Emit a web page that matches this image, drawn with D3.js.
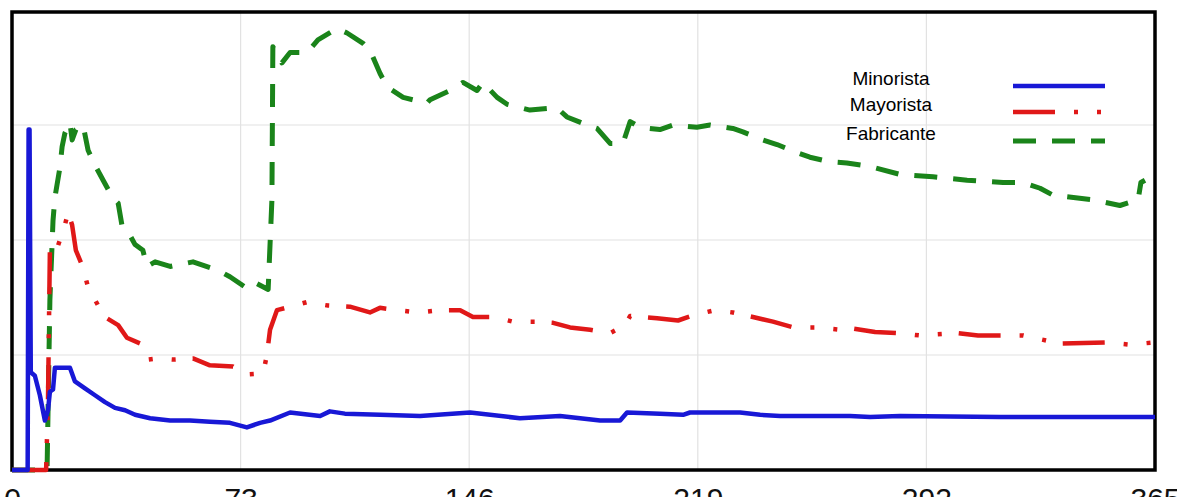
<!DOCTYPE html>
<html lang="es">
<head>
<meta charset="utf-8">
<title>Minorista / Mayorista / Fabricante</title>
<script src="https://cdn.jsdelivr.net/npm/d3@7"></script>
<style>
  body { margin: 0; background: #fff; }
  svg { display: block; }
  .tick text { font-family: "Liberation Sans", Arial, sans-serif; fill: #111; }
  .legend text { font-family: "Liberation Sans", Arial, sans-serif; font-size: 19px; fill: #000; }
</style>
</head>
<body>
<script>
// x ticks (days)
var xTicks = [0, 73, 146, 219, 292, 365];
var yGrid = [1, 2, 3];

var seriesNames = ["Minorista", "Mayorista", "Fabricante"];

// [day, value]
var minorista = [
  [0,0],[5.0,0],[5.3,2.96],[5.6,2.96],[6.0,0.85],[7.3,0.82],[8.9,0.65],[10.5,0.43],[11.5,0.52],
  [12.1,0.68],[13.1,0.70],[13.7,0.89],[16,0.89],[18.5,0.89],[20.1,0.77],[23.3,0.71],
  [26.5,0.65],[29.7,0.59],[32.9,0.54],[36.1,0.52],[39.3,0.48],[44.1,0.45],[50.5,0.43],
  [56.8,0.43],[63.2,0.42],[69.6,0.41],[75,0.37],[79.2,0.41],[82.4,0.43],[88.8,0.50],
  [98.4,0.47],[101.5,0.51],[106.3,0.49],[117.5,0.48],[130.3,0.47],[146.3,0.50],
  [162.2,0.45],[175,0.47],[187.8,0.43],[194.2,0.43],[196.4,0.50],[206.9,0.49],
  [214.3,0.48],[216.5,0.50],[232.5,0.50],[238.9,0.48],[245.3,0.47],[267.6,0.47],
  [274,0.46],[283.6,0.47],[315.5,0.46],[365,0.46]
];

var mayorista = [
  [0,0],[10.9,0],[11.5,0.61],[12.1,1.91],[13.7,1.87],[15.3,2.0],[16.9,2.13],[17.9,2.24],
  [19.2,2.13],[20.4,1.91],[22.4,1.78],[24.3,1.59],[27.5,1.43],[30.3,1.32],[33.9,1.26],
  [36.7,1.15],[40.9,1.10],[43.4,0.96],[46.3,0.97],[51.4,0.96],[57.8,0.97],[63.2,0.91],
  [70.6,0.90],[74.4,0.83],[80.2,0.84],[81.4,1.0],[82.4,1.22],[84.6,1.39],[88.8,1.42],
  [94.2,1.46],[100.9,1.43],[107.9,1.42],[114.3,1.37],[117.5,1.41],[123.3,1.39],
  [129.7,1.37],[136.7,1.39],[143.1,1.39],[147.2,1.33],[154.2,1.33],[160,1.29],
  [167.7,1.29],[172.8,1.28],[178.2,1.24],[184.6,1.22],[191,1.19],[195.8,1.26],
  [197.4,1.34],[206,1.32],[212.7,1.30],[218.1,1.35],[224.5,1.39],[230.2,1.37],
  [236.6,1.33],[243,1.29],[249.4,1.24],[257.1,1.24],[264.4,1.22],[268.6,1.23],
  [275.6,1.20],[282.6,1.19],[290,1.17],[301.8,1.19],[308.5,1.17],[322.9,1.17],
  [334.7,1.10],[349.7,1.11],[357,1.09],[365,1.11]
];

var fabricante = [
  [0,0],[11.2,0],[12.1,1.48],[13.1,2.17],[13.7,2.37],[15.3,2.63],[16,2.81],[16.9,2.93],
  [18.5,3.02],[19.2,2.87],[20.4,2.96],[22.7,3.0],[24.3,2.78],[26.5,2.65],[29.1,2.52],
  [32.1,2.37],[33.9,2.32],[35.1,2.13],[36.7,2.09],[39.3,1.96],[41.8,1.91],[43.1,1.77],
  [45.7,1.81],[50.5,1.77],[57.8,1.81],[65.5,1.74],[69.6,1.68],[75,1.58],[77.6,1.63],
  [81.8,1.57],[83,2.35],[83.3,3.68],[86.2,3.54],[88.8,3.63],[94.2,3.63],[97.7,3.74],
  [103.8,3.84],[107,3.80],[112.1,3.71],[114.3,3.65],[117.5,3.45],[119.8,3.33],
  [124.9,3.24],[132.5,3.19],[133.5,3.22],[139.9,3.30],[144,3.37],[148.5,3.30],
  [150.4,3.37],[154.9,3.24],[158.1,3.18],[165.4,3.13],[174,3.15],[177.2,3.07],
  [183.6,3.0],[186.8,2.97],[191,2.84],[195.1,2.84],[197.4,3.03],[200.5,2.98],
  [206.9,2.96],[211.1,3.0],[218.7,2.98],[222.9,3.0],[230.2,2.97],[233.4,2.94],
  [239.8,2.87],[244.3,2.83],[250.7,2.76],[254.8,2.72],[261.2,2.68],[266.6,2.67],
  [274,2.64],[283.6,2.57],[294.1,2.55],[305,2.52],[316.5,2.50],[322.9,2.50],
  [328.3,2.45],[332.4,2.39],[345.2,2.35],[353.8,2.30],[359.6,2.35],[360.5,2.50],
  [361.8,2.52]
];

var w = 1177, h = 497;
var padLeft = 12, padRight = 1155, padTop = 10, padBottom = 470;

var svg = d3.select("body").append("svg")
  .attr("width", w)
  .attr("height", h);

var xScale = d3.scaleLinear().domain([0, 365]).range([padLeft, padRight]);
var yScale = d3.scaleLinear().domain([0, 4]).range([padBottom, padTop]);

// grid
svg.append("g").selectAll("line")
  .data(xTicks.slice(1, -1))
  .enter().append("line")
  .attr("x1", function(d) { return xScale(d); })
  .attr("x2", function(d) { return xScale(d); })
  .attr("y1", yScale(4)).attr("y2", yScale(0))
  .attr("stroke", "#e2e2e2").attr("stroke-width", 1.2);

svg.append("g").selectAll("line")
  .data(yGrid)
  .enter().append("line")
  .attr("x1", padLeft).attr("x2", padRight)
  .attr("y1", function(d) { return yScale(d); })
  .attr("y2", function(d) { return yScale(d); })
  .attr("stroke", "#e2e2e2").attr("stroke-width", 1.2);

// frame
svg.append("rect")
  .attr("x", padLeft).attr("y", yScale(4) + 2)
  .attr("width", padRight - padLeft).attr("height", padBottom - yScale(4) - 2)
  .attr("fill", "none").attr("stroke", "#000").attr("stroke-width", 3.5);

// x axis labels
var xAxis = d3.axisBottom(xScale)
  .tickValues(xTicks)
  .tickSize(0)
  .tickPadding(18)
  .tickFormat(d3.format("d"));

svg.append("g")
  .attr("transform", "translate(0," + padBottom + ")")
  .call(xAxis)
  .call(function(g) { g.select(".domain").remove(); })
  .selectAll("text").style("font-size", "30px");

var line = d3.line()
  .x(function(d) { return xScale(d[0]); })
  .y(function(d) { return yScale(d[1]); });

var styles = {
  Minorista:  { color: "#1818d6", width: 4.5, dash: null },
  Mayorista:  { color: "#e01818", width: 4.5, dash: "42,19,4,19,4,17" },
  Fabricante: { color: "#1a841a", width: 5,   dash: "23,16" }
};

var data = { Minorista: minorista, Mayorista: mayorista, Fabricante: fabricante };

// drawing order: green, red, blue on top
["Fabricante", "Mayorista", "Minorista"].forEach(function(name) {
  svg.append("path")
    .datum(data[name])
    .attr("d", line)
    .attr("fill", "none")
    .attr("stroke", styles[name].color)
    .attr("stroke-width", styles[name].width)
    .attr("stroke-dasharray", styles[name].dash)
    .attr("stroke-linejoin", "round");
});

// legend
var legend = svg.append("g").attr("class", "legend");
var legendY = [86, 112, 141];
seriesNames.forEach(function(name, i) {
  legend.append("text")
    .attr("x", 891).attr("y", legendY[i] - 1)
    .attr("text-anchor", "middle")
    .text(name);
  legend.append("line")
    .attr("x1", 1013).attr("x2", 1105)
    .attr("y1", legendY[i]).attr("y2", legendY[i])
    .attr("stroke", styles[name].color)
    .attr("stroke-width", styles[name].width)
    .attr("stroke-dasharray", styles[name].dash);
});
</script>
</body>
</html>
